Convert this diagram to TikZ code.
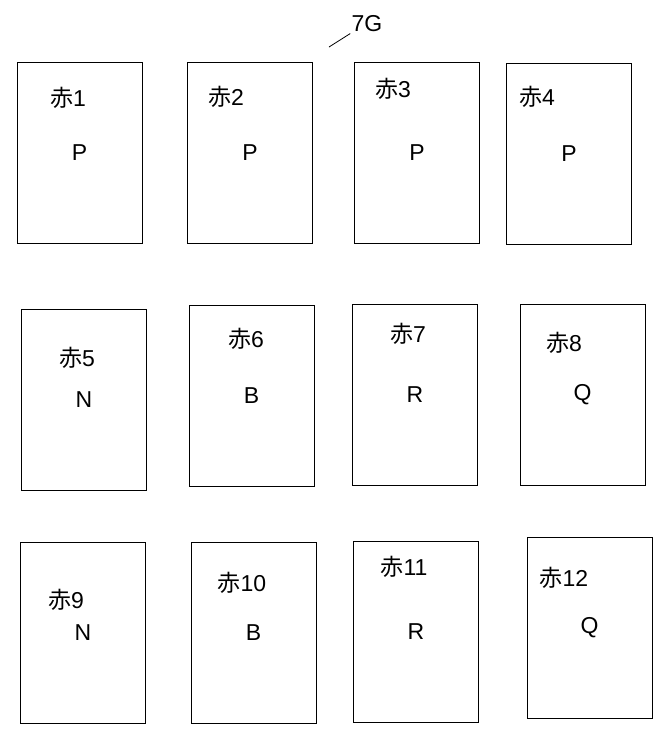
\documentclass[tikz,border=0pt]{standalone}
\usepackage{fontspec}
\setmainfont{Liberation Sans}
\newfontfamily\jpfont{Noto Sans CJK JP}
\newcommand{\aka}{{\jpfont 赤}}

\begin{document}
\begin{tikzpicture}[x=1pt, y=-1pt, line width=0.8pt, font=\fontsize{23}{27}\selectfont]
\tikzset{
  card/.style={draw, rectangle, minimum width=125pt, minimum height=181pt, inner sep=0pt},
  cardno/.style={inner sep=1pt},
  tagno/.style={inner sep=1pt}
}
\useasboundingbox (0,0) rectangle (669,740);

% first row
\node[card] (c1) at (79.5,152.5) {P};
\node[card] (c2) at (250,153) {P};
\node[card] (c3) at (417,153) {P};
\node[card] (c4) at (569,154) {P};
\node[cardno] (n1) at (68,98) {\aka1};
\node[cardno] (n2) at (226,97) {\aka2};
\node[cardno] (n3) at (393,89) {\aka3};
\node[cardno] (n4) at (537,97) {\aka4};

% second row
\node[card] (c5) at (84,400) {N};
\node[card] (c6) at (251.5,395.5) {B};
\node[card] (c7) at (415,395) {R};
\node[card] (c8) at (582.5,395) {Q};
\node[cardno] (n5) at (77,358) {\aka5};
\node[cardno] (n6) at (246,339) {\aka6};
\node[cardno] (n7) at (408,334) {\aka7};
\node[cardno] (n8) at (564,343) {\aka8};

% third row
\node[card] (c9) at (83,632.5) {N};
\node[card] (c10) at (253.5,632.5) {B};
\node[card] (c11) at (416,631.5) {R};
\node[card] (c12) at (589.5,627.5) {Q};
\node[cardno] (n9) at (66,600) {\aka9};
\node[cardno] (n10) at (242,583) {\aka10};
\node[cardno] (n11) at (404,567) {\aka11};
\node[cardno] (n12) at (564,578) {\aka12};

% reference mark
\node[tagno] (tag) at (367,24) {7G};
\coordinate (lead) at (329,47);
\draw (lead) -- (tag.south west);
\end{tikzpicture}
\end{document}
